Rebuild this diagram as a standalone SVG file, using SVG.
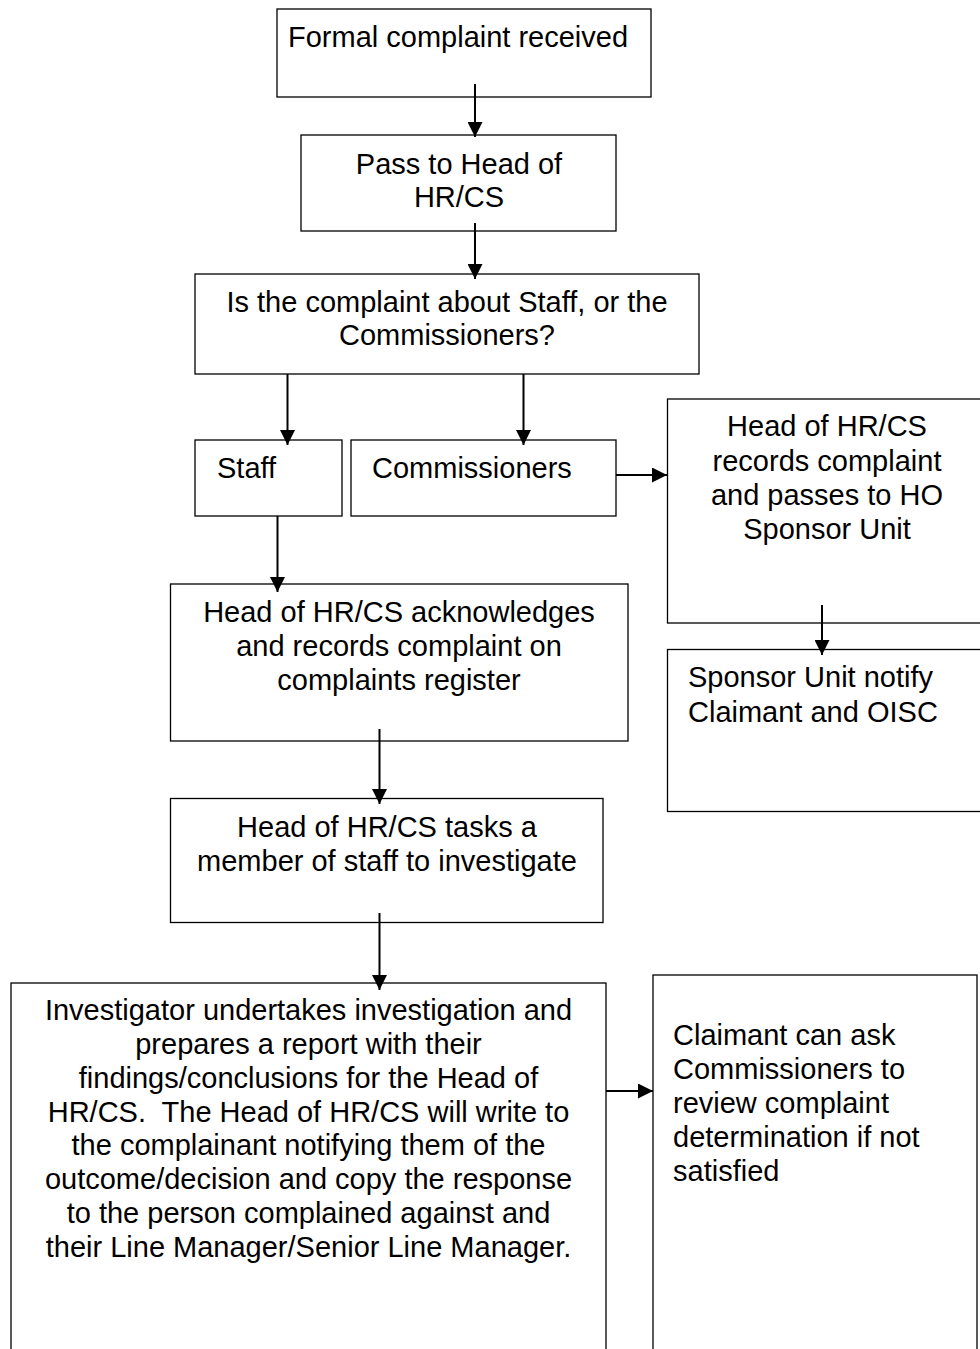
<svg xmlns="http://www.w3.org/2000/svg" width="980" height="1349" viewBox="0 0 980 1349">
<style>
.box{fill:#fff;stroke:#000;stroke-width:1.3}
.t{font-family:"Liberation Sans",Arial,sans-serif;font-size:29px;fill:#000;white-space:pre}
.c{text-anchor:middle}
.conn line{stroke:#000;stroke-width:2}
</style>
<defs>
<marker id="ah" markerUnits="userSpaceOnUse" markerWidth="15" markerHeight="15" refX="14" refY="7" orient="auto" viewBox="0 0 14 14">
<path d="M0,0 L14,7 L0,14 z" fill="#000"/>
</marker>
</defs>
<rect width="980" height="1349" fill="#fff"/>
<g id="n1"><rect class="box" x="277" y="9" width="374" height="88"/><text class="t" x="288" y="47">Formal complaint received</text></g>
<g id="n2"><rect class="box" x="301" y="135" width="315" height="96"/><text class="t c" x="459" y="174">Pass to Head of</text><text class="t c" x="459" y="207">HR/CS</text></g>
<g id="n3"><rect class="box" x="195" y="274" width="504" height="100"/><text class="t c" x="447" y="312">Is the complaint about Staff, or the</text><text class="t c" x="447" y="345">Commissioners?</text></g>
<g id="n4"><rect class="box" x="195" y="440" width="147" height="76"/><text class="t" x="217" y="478">Staff</text></g>
<g id="n5"><rect class="box" x="351" y="440" width="265" height="76"/><text class="t" x="372" y="478">Commissioners</text></g>
<g id="n6"><rect class="box" x="667.5" y="399" width="400" height="224"/><text class="t c" x="827" y="436">Head of HR/CS</text><text class="t c" x="827" y="470.5">records complaint</text><text class="t c" x="827" y="505">and passes to HO</text><text class="t c" x="827" y="538.5">Sponsor Unit</text></g>
<g id="n7"><rect class="box" x="667.5" y="649.5" width="400" height="162"/><text class="t" x="688" y="687">Sponsor Unit notify</text><text class="t" x="688" y="721.5">Claimant and OISC</text></g>
<g id="n8"><rect class="box" x="170.5" y="584" width="457.5" height="157"/><text class="t c" x="399" y="622">Head of HR/CS acknowledges</text><text class="t c" x="399" y="655.5">and records complaint on</text><text class="t c" x="399" y="689.5">complaints register</text></g>
<g id="n9"><rect class="box" x="170.5" y="798.5" width="432.5" height="124"/><text class="t c" x="387" y="837">Head of HR/CS tasks a</text><text class="t c" x="387" y="871">member of staff to investigate</text></g>
<g id="n10"><rect class="box" x="11" y="983" width="595" height="400"/>
<text class="t c" x="308.5" y="1020">Investigator undertakes investigation and</text>
<text class="t c" x="308.5" y="1054">prepares a report with their</text>
<text class="t c" x="308.5" y="1088">findings/conclusions for the Head of</text>
<text class="t c" x="308.5" y="1121.5">HR/CS.  The Head of HR/CS will write to</text>
<text class="t c" x="308.5" y="1155">the complainant notifying them of the</text>
<text class="t c" x="308.5" y="1189">outcome/decision and copy the response</text>
<text class="t c" x="308.5" y="1223">to the person complained against and</text>
<text class="t c" x="308.5" y="1256.5">their Line Manager/Senior Line Manager.</text></g>
<g id="n11"><rect class="box" x="653" y="975" width="324" height="400"/>
<text class="t" x="673" y="1045">Claimant can ask</text>
<text class="t" x="673" y="1079">Commissioners to</text>
<text class="t" x="673" y="1113">review complaint</text>
<text class="t" x="673" y="1147">determination if not</text>
<text class="t" x="673" y="1181">satisfied</text></g>
<g id="connectors" class="conn">
<line x1="475" y1="84" x2="475" y2="137" marker-end="url(#ah)"/>
<line x1="475" y1="223" x2="475" y2="279" marker-end="url(#ah)"/>
<line x1="287.5" y1="374" x2="287.5" y2="445" marker-end="url(#ah)"/>
<line x1="523.5" y1="374" x2="523.5" y2="445" marker-end="url(#ah)"/>
<line x1="616" y1="475" x2="667" y2="475" marker-end="url(#ah)"/>
<line x1="277.5" y1="516" x2="277.5" y2="592" marker-end="url(#ah)"/>
<line x1="822" y1="605" x2="822" y2="655" marker-end="url(#ah)"/>
<line x1="379.5" y1="729" x2="379.5" y2="804" marker-end="url(#ah)"/>
<line x1="379.5" y1="913" x2="379.5" y2="990" marker-end="url(#ah)"/>
<line x1="606" y1="1091" x2="653" y2="1091" marker-end="url(#ah)"/>
</g>
</svg>
